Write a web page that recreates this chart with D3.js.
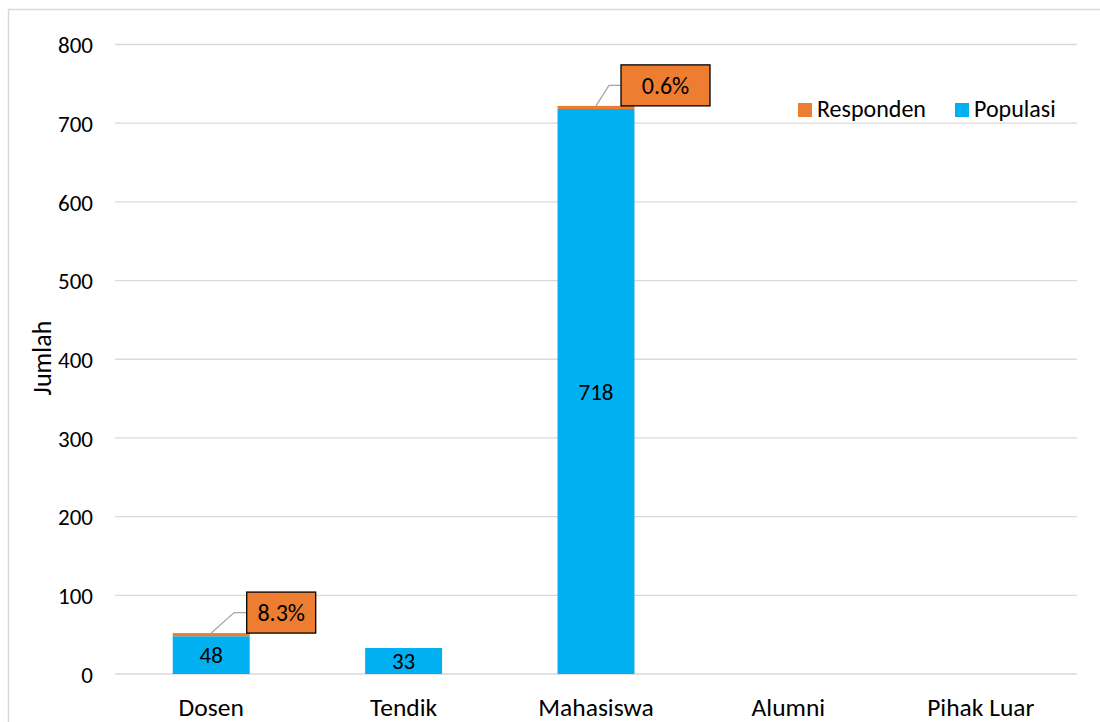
<!DOCTYPE html>
<html><head><meta charset="utf-8">
<script src="https://cdn.jsdelivr.net/npm/d3@7"></script>
<style>
body{margin:0;background:#fff;}
text{font-family:Carlito,Calibri,Lato,"Open Sans",sans-serif;fill:#000;}
</style></head>
<body><svg id="c" width="1100" height="722"></svg>
<script>
const categories = ["Dosen","Tendik","Mahasiswa","Alumni","Pihak Luar"];
const populasi = [48,33,718,0,0];
const responden = [4,0,4,0,0];
const pctLabels = ["8.3%","","0.6%","",""];
const yTicks = [0,100,200,300,400,500,600,700,800];
const seriesNames = ["Responden","Populasi"];
const colors = {Responden:"#ED7D31", Populasi:"#00B0F0"};
const FF = "Carlito,Calibri,Lato,sans-serif";

const svg = d3.select("#c");
const m = {l:115, r:1100-1077, t:44.5, b:722-674};
const W = 1100, H = 722;

// outer border
svg.append("rect").attr("x",8.5).attr("y",9.5).attr("width",1200).attr("height",800)
  .attr("fill","none").attr("stroke","#d9d9d9").attr("stroke-width",1.5);

const x = d3.scaleBand().domain(categories).range([m.l, W-m.r]).paddingInner(0.6).paddingOuter(0.3);
const y = d3.scaleLinear().domain([0,800]).range([H-m.b, m.t]);

// gridlines
svg.append("g").selectAll("line").data(yTicks).join("line")
  .attr("x1",m.l).attr("x2",W-m.r).attr("y1",d=>y(d)).attr("y2",d=>y(d))
  .attr("stroke","#d9d9d9").attr("stroke-width",1.3);

// y axis labels
const yAxis = d3.axisLeft(y).tickValues(yTicks).tickSize(0).tickPadding(22);
const ya = svg.append("g").attr("transform",`translate(${m.l},0)`).call(yAxis);
ya.select(".domain").remove();
ya.attr("font-size",null).attr("font-family",null);
ya.selectAll("text").style("font-size","23px").style("font-family",FF).attr("fill","#000").attr("dy","0.36em");

// x axis labels
const xAxis = d3.axisBottom(x).tickSize(0).tickPadding(0);
const xa = svg.append("g").attr("transform",`translate(0,${y(0)})`).call(xAxis);
xa.select(".domain").remove();
xa.attr("font-size",null).attr("font-family",null);
xa.selectAll("text").style("font-size","25.5px").style("font-family",FF).attr("fill","#000")
  .attr("y",42).attr("dy",0);

// stacked data
const data = categories.map((c,i)=>({cat:c, Populasi:populasi[i], Responden:responden[i]}));
const stack = d3.stack().keys(["Populasi","Responden"])(data);
svg.append("g").selectAll("g").data(stack).join("g")
  .attr("fill",d=>colors[d.key])
  .selectAll("rect").data(d=>d).join("rect")
  .attr("x",d=>x(d.data.cat)).attr("width",x.bandwidth())
  .attr("y",d=>y(d[1])).attr("height",d=>Math.max(0,y(d[0])-y(d[1])));

// populasi labels
svg.append("g").selectAll("text").data(data.filter(d=>d.Populasi>0)).join("text")
  .attr("x",d=>x(d.cat)+x.bandwidth()/2).attr("y",d=>y(d.Populasi/2))
  .attr("dy","0.36em").attr("text-anchor","middle").style("font-size","23px")
  .text(d=>d.Populasi);

// callouts
const calls = data.map((d,i)=>({d, lab:pctLabels[i]})).filter(o=>o.lab);
const cg = svg.append("g");
calls.forEach(o=>{
  const cx = x(o.d.cat)+x.bandwidth()/2;
  const top = y(o.d.Populasi+o.d.Responden);
  const big = o.lab==="0.6%";
  const bx = cx+(big?25:35.5), by = top-41, bw = big?89:69, bh=41;
  const ly = by+20.5;
  cg.append("polyline").attr("points",`${cx},${top} ${cx+(big?13:23)},${ly} ${bx},${ly}`)
    .attr("fill","none").attr("stroke","#a6a6a6").attr("stroke-width",1.3);
  cg.append("rect").attr("x",bx).attr("y",by).attr("width",bw).attr("height",bh)
    .attr("fill","#ED7D31").attr("stroke","#000").attr("stroke-width",1.3);
  cg.append("text").attr("x",bx+bw/2).attr("y",by+bh/2).attr("dy","0.36em")
    .attr("text-anchor","middle").style("font-size","24px").text(o.lab);
});

// y title
svg.append("text").attr("transform","translate(42,358) rotate(-90)")
  .attr("text-anchor","middle").attr("dy","0.36em").style("font-size","26px").text("Jumlah");

// legend
const lg = svg.append("g");
const lx = [798, 955];
seriesNames.forEach((s,i)=>{
  lg.append("rect").attr("x",lx[i]).attr("y",103).attr("width",14).attr("height",14).attr("fill",colors[s]);
  lg.append("text").attr("x",lx[i]+19).attr("y",117).style("font-size","24px").text(s);
});
</script></body></html>
